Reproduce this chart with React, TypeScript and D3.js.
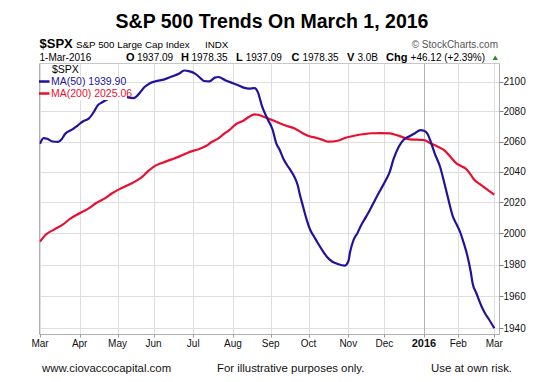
import React from "react";
import * as d3 from "d3";

const TITLE = "S&P 500 Trends On March 1, 2016";
const MONTH_LABELS = ["Mar", "Apr", "May", "Jun", "Jul", "Aug", "Sep", "Oct", "Nov", "Dec", "2016", "Feb", "Mar"];
const Y_TICKS = [1940, 1960, 1980, 2000, 2020, 2040, 2060, 2080, 2100];
const FIRST_SESSION = "2015-03-02";
const LAST_SESSION = "2016-03-01";
const HOLIDAYS = ["2015-04-03", "2015-05-25", "2015-07-03", "2015-09-07", "2015-11-26", "2015-12-25", "2016-01-01", "2016-01-18", "2016-02-15"];

// [session index, value]
const MA50: [number, number][] = [
  [0, 2058.5], [2, 2062.3], [4, 2061.8], [7, 2060.0], [10, 2059.7], [12, 2061.5], [14, 2065.2], [18, 2068], [21, 2070.8],
  [24, 2073.5], [27, 2075.2], [30, 2080], [32, 2084.1], [35, 2086.5], [38, 2088.6], [43, 2091.5], [48, 2089.7], [52, 2089.0],
  [55, 2092], [58, 2096.4], [61, 2099], [64, 2100.3], [69, 2101.6], [73, 2103.5], [77, 2105.4], [80, 2107.6], [83, 2107],
  [86, 2105.5], [89, 2102.5], [91, 2100.5], [94, 2100.3], [97, 2102.8], [99, 2103.2], [103, 2100.9], [107, 2099], [110, 2097.6],
  [113, 2096], [116, 2095.3], [119, 2095.7], [121, 2092.5], [123, 2084.1], [126, 2075.5], [129, 2068], [131, 2059], [133, 2054.4],
  [135, 2048.6], [137, 2044.5], [139, 2041], [141, 2037], [143, 2031], [144, 2025.9], [146, 2017], [148, 2008.6], [150, 2002],
  [152, 1998], [154, 1994], [157, 1988.5], [159, 1985.2], [162, 1982], [165, 1980.5], [169, 1979.4], [171, 1982], [172, 1988],
  [174, 1996], [176, 2000], [178, 2005], [181, 2011], [183, 2015.1], [186, 2022], [189, 2028.5], [192, 2035], [194, 2040],
  [196, 2048], [199, 2056.5], [202, 2061.5], [205, 2063.5], [208, 2065.5], [211, 2067.6], [213, 2067.2], [215, 2065],
  [217, 2059], [219, 2052], [222, 2043], [224, 2034], [226, 2024.5], [229, 2011], [231, 2006], [233, 2001], [235, 1994],
  [237, 1986], [239, 1975], [240, 1968], [242, 1962], [245, 1953.4], [247, 1949], [249, 1945.5], [252, 1939.9],
];

const MA200: [number, number][] = [
  [0, 1994.7], [3, 1999], [8, 2002.6], [13, 2006], [17, 2009.7], [22, 2013], [27, 2016.2], [31, 2019.5], [36, 2022.7],
  [40, 2026], [45, 2029.2], [50, 2032], [54, 2034.6], [57, 2037], [60, 2040.5], [63, 2043.3], [68, 2046], [73, 2048.2],
  [78, 2050.5], [82, 2052.6], [87, 2054.5], [92, 2057.0], [95, 2059.5], [99, 2062.1], [102, 2065], [105, 2067.6], [109, 2071.8],
  [113, 2074], [116, 2076.5], [119, 2078.1], [121, 2077.8], [124, 2076.5], [128, 2074.7], [133, 2072.1], [137, 2070.3],
  [141, 2068.8], [145, 2066], [149, 2063.6], [153, 2062.5], [157, 2061], [160, 2059.9], [165, 2060.5], [170, 2062.7],
  [175, 2064], [179, 2064.8], [184, 2065.5], [189, 2065.6], [194, 2065.4], [197, 2064.5], [200, 2063.4], [205, 2061.4],
  [209, 2061.2], [213, 2061], [216, 2059.2], [220, 2057], [224, 2054.4], [228, 2049.5], [231, 2045.6], [234, 2043.5],
  [236, 2042.3], [239, 2038], [241, 2034.6], [244, 2032], [246, 2030.2], [249, 2027.5], [252, 2025.06],
];

const QUOTE = [
  { t: "O", b: true, x: 126 }, { t: "1937.09", b: false, x: 137 },
  { t: "H", b: true, x: 181 }, { t: "1978.35", b: false, x: 191.5 },
  { t: "L", b: true, x: 236 }, { t: "1937.09", b: false, x: 245.7 },
  { t: "C", b: true, x: 291.5 }, { t: "1978.35", b: false, x: 302.5 },
  { t: "V", b: true, x: 347 }, { t: "3.0B", b: false, x: 357.4 },
  { t: "Chg", b: true, x: 386 }, { t: "+46.12 (+2.39%)", b: false, x: 410.6 },
];

function sessions(): string[] {
  const out: string[] = [];
  const hol = new Set(HOLIDAYS);
  const d = new Date(FIRST_SESSION + "T00:00:00Z");
  const end = new Date(LAST_SESSION + "T00:00:00Z");
  while (d <= end) {
    const wd = d.getUTCDay();
    const iso = d.toISOString().slice(0, 10);
    if (wd !== 0 && wd !== 6 && !hol.has(iso)) out.push(iso);
    d.setUTCDate(d.getUTCDate() + 1);
  }
  return out;
}

const FONT = "'Liberation Sans', Arial, sans-serif";
const BLUE = "#23139a";
const RED = "#ea0f30";

export default function App() {
  const W = 556, H = 382;
  const left = 39.5, right = 499.5, top = 63.5, bottom = 334.5;
  const days = sessions();
  const n = days.length - 1;
  const x = d3.scaleLinear().domain([0, n]).range([40, 494.3]);
  const y = d3.scaleLog().domain([1936.3, 2112.7]).range([334, 63]);

  const monthIdx: number[] = [];
  days.forEach((d, i) => {
    if (i === 0 || d.slice(0, 7) !== days[i - 1].slice(0, 7)) monthIdx.push(i);
  });

  const line = d3
    .line<[number, number]>()
    .x((d) => x(d[0]))
    .y((d) => y(d[1]))
    .curve(d3.curveMonotoneX);

  return (
    <svg width={W} height={H} style={{ position: "fixed", left: 0, top: 0, background: "#fff" }} fontFamily={FONT}>
      <rect x={0} y={0} width={W} height={H} fill="#fff" />
      <text x={272} y={28} textAnchor="middle" fontSize={19.5} fontWeight="bold" fill="#000">
        {TITLE}
      </text>
      {/* header row 1 */}
      <text x={39.5} y={48} fontSize={13} fontWeight="bold" fill="#000">$SPX</text>
      <text x={76} y={48} fontSize={9.8} fill="#000">S&amp;P 500 Large Cap Index</text>
      <text x={205} y={48} fontSize={9.8} fill="#000">INDX</text>
      <text x={498} y={48} fontSize={10} fill="#555" textAnchor="end">© StockCharts.com</text>
      {/* header row 2 */}
      <text x={39.5} y={61} fontSize={10} fill="#000">1-Mar-2016</text>
      {QUOTE.map((q, i) => (
        <text key={i} x={q.x} y={61} fontSize={q.b ? 11 : 10} fontWeight={q.b ? "bold" : "normal"} fill="#000">
          {q.t}
        </text>
      ))}
      <path d="M492.5,60 L498,60 L495.25,55.5 Z" fill="#2a8a2a" />

      {/* grid */}
      {Y_TICKS.map((t) => (
        <line key={"h" + t} x1={left} x2={right} y1={Math.round(y(t)) + 0.5} y2={Math.round(y(t)) + 0.5} stroke="#dedede" />
      ))}
      {monthIdx.map((m, i) => (
        <line
          key={"v" + i}
          x1={Math.round(x(m)) + 0.5}
          x2={Math.round(x(m)) + 0.5}
          y1={top}
          y2={bottom}
          stroke={MONTH_LABELS[i] === "2016" ? "#b4b4b4" : "#dedede"}
        />
      ))}
      {/* frame */}
      <line x1={left} x2={left} y1={top} y2={bottom} stroke="#b0b0b0" />
      <line x1={right} x2={right} y1={top} y2={bottom} stroke="#b0b0b0" />
      <line x1={left} x2={right} y1={top} y2={top} stroke="#c8c8c8" />
      <line x1={left} x2={right} y1={bottom} y2={bottom} stroke="#b0b0b0" />

      <clipPath id="plot">
        <rect x={left} y={top} width={right - left} height={bottom - top} />
      </clipPath>
      <g clipPath="url(#plot)">
        <path d={line(MA200) || ""} fill="none" stroke={RED} strokeWidth={2.2} strokeLinejoin="round" />
        <path d={line(MA50) || ""} fill="none" stroke={BLUE} strokeWidth={2.2} strokeLinejoin="round" />
      </g>

      {/* legend */}
      <rect x={51} y={64.5} width={22} height={11} fill="#fff" />
      <text x={52} y={73} fontSize={10.5} fill="#000">$SPX</text>
      <rect x={50} y={76} width={70} height={11} fill="#fff" />
      <line x1={39} x2={49.5} y1={81.5} y2={81.5} stroke={BLUE} strokeWidth={2.5} />
      <text x={51} y={85} fontSize={10.5} fill={BLUE}>MA(50) 1939.90</text>
      <rect x={50} y={88} width={77} height={12} fill="#fff" />
      <line x1={39} x2={49.5} y1={93.5} y2={93.5} stroke={RED} strokeWidth={2.5} />
      <text x={51} y={96.8} fontSize={10.5} fill={RED}>MA(200) 2025.06</text>

      {/* y axis */}
      {Y_TICKS.map((t) => (
        <g key={"y" + t}>
          <line x1={right} x2={right + 4} y1={Math.round(y(t)) + 0.5} y2={Math.round(y(t)) + 0.5} stroke="#888" />
          <text x={503.5} y={y(t) + 3.6} fontSize={10} fill="#111">{t}</text>
        </g>
      ))}
      {/* x axis */}
      {monthIdx.map((m, i) => (
        <g key={"x" + i}>
          <line x1={Math.round(x(m)) + 0.5} x2={Math.round(x(m)) + 0.5} y1={bottom} y2={bottom + 3} stroke="#999" />
          <text
            x={x(m)}
            y={347}
            textAnchor="middle"
            fontSize={MONTH_LABELS[i] === "2016" ? 11 : 10}
            fontWeight={MONTH_LABELS[i] === "2016" ? "bold" : "normal"}
            fill="#111"
          >
            {MONTH_LABELS[i]}
          </text>
        </g>
      ))}

      {/* footer */}
      <text x={42} y={371.5} fontSize={11.4} fill="#111">www.ciovaccocapital.com</text>
      <text x={217} y={371.5} fontSize={11.4} fill="#111">For illustrative purposes only.</text>
      <text x={431} y={371.5} fontSize={11.4} fill="#111">Use at own risk.</text>
    </svg>
  );
}
